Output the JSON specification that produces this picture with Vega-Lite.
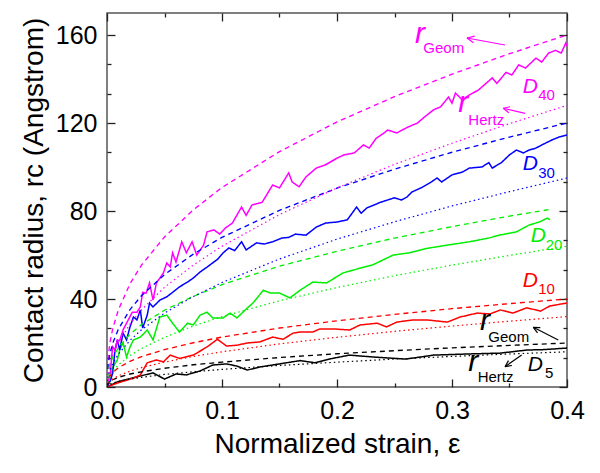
{
"$schema": "https://vega.github.io/schema/vega-lite/v6.json",
"width": 460, "height": 374,
"autosize": "none",
"padding": {"left": 107, "top": 13, "right": 33, "bottom": 86},
"config": {"font": "Liberation Sans", "view": {"stroke": "#555555", "strokeWidth": 1.5}, "axis": {"grid": false, "domain": false, "labelFlush": false, "tickColor": "#222222", "tickWidth": 1.3, "labelColor": "#000000", "titleColor": "#000000", "titleFontWeight": "normal"}},
"datasets": {
"curves": [
{"D":"D5","kind":"sim","eps":0,"r":0},{"D":"D5","kind":"sim","eps":0.009,"r":2.3},{"D":"D5","kind":"sim","eps":0.02,"r":3.8},{"D":"D5","kind":"sim","eps":0.029,"r":5},{"D":"D5","kind":"sim","eps":0.04,"r":6.4},{"D":"D5","kind":"sim","eps":0.05,"r":3.6},{"D":"D5","kind":"sim","eps":0.06,"r":5.9},{"D":"D5","kind":"sim","eps":0.069,"r":5.5},{"D":"D5","kind":"sim","eps":0.081,"r":7.3},{"D":"D5","kind":"sim","eps":0.092,"r":10},{"D":"D5","kind":"sim","eps":0.104,"r":10.5},{"D":"D5","kind":"sim","eps":0.113,"r":9.5},{"D":"D5","kind":"sim","eps":0.122,"r":7.7},{"D":"D5","kind":"sim","eps":0.133,"r":9.1},{"D":"D5","kind":"sim","eps":0.15,"r":10.5},{"D":"D5","kind":"sim","eps":0.168,"r":12},{"D":"D5","kind":"sim","eps":0.181,"r":11},{"D":"D5","kind":"sim","eps":0.196,"r":13},{"D":"D5","kind":"sim","eps":0.211,"r":14.5},{"D":"D5","kind":"sim","eps":0.232,"r":13.6},{"D":"D5","kind":"sim","eps":0.26,"r":12.7},{"D":"D5","kind":"sim","eps":0.284,"r":14.5},{"D":"D5","kind":"sim","eps":0.313,"r":15},{"D":"D5","kind":"sim","eps":0.342,"r":15.4},{"D":"D5","kind":"sim","eps":0.365,"r":16.8},{"D":"D5","kind":"sim","eps":0.38,"r":17},{"D":"D5","kind":"sim","eps":0.4,"r":17.7},
{"D":"D10","kind":"sim","eps":0,"r":0},{"D":"D10","kind":"sim","eps":0.009,"r":1.8},{"D":"D10","kind":"sim","eps":0.023,"r":4},{"D":"D10","kind":"sim","eps":0.029,"r":5.5},{"D":"D10","kind":"sim","eps":0.035,"r":11},{"D":"D10","kind":"sim","eps":0.043,"r":12.3},{"D":"D10","kind":"sim","eps":0.049,"r":11.4},{"D":"D10","kind":"sim","eps":0.055,"r":14.5},{"D":"D10","kind":"sim","eps":0.063,"r":13},{"D":"D10","kind":"sim","eps":0.075,"r":14.5},{"D":"D10","kind":"sim","eps":0.087,"r":18.2},{"D":"D10","kind":"sim","eps":0.096,"r":21.7},{"D":"D10","kind":"sim","eps":0.104,"r":18.6},{"D":"D10","kind":"sim","eps":0.113,"r":19},{"D":"D10","kind":"sim","eps":0.122,"r":20},{"D":"D10","kind":"sim","eps":0.133,"r":20.5},{"D":"D10","kind":"sim","eps":0.144,"r":22.7},{"D":"D10","kind":"sim","eps":0.153,"r":21.7},{"D":"D10","kind":"sim","eps":0.162,"r":24.5},{"D":"D10","kind":"sim","eps":0.168,"r":25},{"D":"D10","kind":"sim","eps":0.179,"r":25},{"D":"D10","kind":"sim","eps":0.185,"r":26.4},{"D":"D10","kind":"sim","eps":0.197,"r":26.4},{"D":"D10","kind":"sim","eps":0.211,"r":25.9},{"D":"D10","kind":"sim","eps":0.22,"r":28.2},{"D":"D10","kind":"sim","eps":0.235,"r":29},{"D":"D10","kind":"sim","eps":0.243,"r":27.3},{"D":"D10","kind":"sim","eps":0.252,"r":29.5},{"D":"D10","kind":"sim","eps":0.266,"r":30.5},{"D":"D10","kind":"sim","eps":0.278,"r":30.5},{"D":"D10","kind":"sim","eps":0.296,"r":29.5},{"D":"D10","kind":"sim","eps":0.307,"r":31.8},{"D":"D10","kind":"sim","eps":0.322,"r":33.6},{"D":"D10","kind":"sim","eps":0.333,"r":33.2},{"D":"D10","kind":"sim","eps":0.342,"r":35},{"D":"D10","kind":"sim","eps":0.353,"r":33.6},{"D":"D10","kind":"sim","eps":0.365,"r":36},{"D":"D10","kind":"sim","eps":0.377,"r":34.5},{"D":"D10","kind":"sim","eps":0.385,"r":36.8},{"D":"D10","kind":"sim","eps":0.4,"r":38.2},
{"D":"D20","kind":"sim","eps":0,"r":0},{"D":"D20","kind":"sim","eps":0.003,"r":3},{"D":"D20","kind":"sim","eps":0.005,"r":9},{"D":"D20","kind":"sim","eps":0.009,"r":12.3},{"D":"D20","kind":"sim","eps":0.011,"r":16.8},{"D":"D20","kind":"sim","eps":0.014,"r":20},{"D":"D20","kind":"sim","eps":0.017,"r":13.6},{"D":"D20","kind":"sim","eps":0.02,"r":18.2},{"D":"D20","kind":"sim","eps":0.023,"r":21.4},{"D":"D20","kind":"sim","eps":0.029,"r":22.7},{"D":"D20","kind":"sim","eps":0.035,"r":25.9},{"D":"D20","kind":"sim","eps":0.04,"r":21.4},{"D":"D20","kind":"sim","eps":0.046,"r":31.8},{"D":"D20","kind":"sim","eps":0.052,"r":32.7},{"D":"D20","kind":"sim","eps":0.057,"r":29},{"D":"D20","kind":"sim","eps":0.063,"r":25},{"D":"D20","kind":"sim","eps":0.07,"r":29},{"D":"D20","kind":"sim","eps":0.075,"r":28.2},{"D":"D20","kind":"sim","eps":0.081,"r":32.7},{"D":"D20","kind":"sim","eps":0.087,"r":34},{"D":"D20","kind":"sim","eps":0.092,"r":31.4},{"D":"D20","kind":"sim","eps":0.101,"r":31.4},{"D":"D20","kind":"sim","eps":0.107,"r":33.6},{"D":"D20","kind":"sim","eps":0.113,"r":31.4},{"D":"D20","kind":"sim","eps":0.122,"r":35.9},{"D":"D20","kind":"sim","eps":0.127,"r":38.2},{"D":"D20","kind":"sim","eps":0.136,"r":44},{"D":"D20","kind":"sim","eps":0.142,"r":42.7},{"D":"D20","kind":"sim","eps":0.15,"r":42.7},{"D":"D20","kind":"sim","eps":0.159,"r":40.5},{"D":"D20","kind":"sim","eps":0.168,"r":44},{"D":"D20","kind":"sim","eps":0.179,"r":47.7},{"D":"D20","kind":"sim","eps":0.191,"r":47.3},{"D":"D20","kind":"sim","eps":0.205,"r":51.8},{"D":"D20","kind":"sim","eps":0.22,"r":54},{"D":"D20","kind":"sim","eps":0.231,"r":55.5},{"D":"D20","kind":"sim","eps":0.249,"r":60},{"D":"D20","kind":"sim","eps":0.263,"r":61},{"D":"D20","kind":"sim","eps":0.278,"r":63},{"D":"D20","kind":"sim","eps":0.296,"r":64.5},{"D":"D20","kind":"sim","eps":0.315,"r":66},{"D":"D20","kind":"sim","eps":0.332,"r":67.7},{"D":"D20","kind":"sim","eps":0.341,"r":69},{"D":"D20","kind":"sim","eps":0.356,"r":70.5},{"D":"D20","kind":"sim","eps":0.367,"r":73.6},{"D":"D20","kind":"sim","eps":0.376,"r":75},{"D":"D20","kind":"sim","eps":0.383,"r":76.8},{"D":"D20","kind":"sim","eps":0.385,"r":76},
{"D":"D30","kind":"sim","eps":0,"r":0},{"D":"D30","kind":"sim","eps":0.003,"r":3},{"D":"D30","kind":"sim","eps":0.005,"r":6.4},{"D":"D30","kind":"sim","eps":0.007,"r":16.8},{"D":"D30","kind":"sim","eps":0.009,"r":21.4},{"D":"D30","kind":"sim","eps":0.011,"r":16.8},{"D":"D30","kind":"sim","eps":0.014,"r":24.5},{"D":"D30","kind":"sim","eps":0.017,"r":21.4},{"D":"D30","kind":"sim","eps":0.02,"r":27.3},{"D":"D30","kind":"sim","eps":0.023,"r":31.8},{"D":"D30","kind":"sim","eps":0.026,"r":30.5},{"D":"D30","kind":"sim","eps":0.029,"r":35},{"D":"D30","kind":"sim","eps":0.031,"r":26.8},{"D":"D30","kind":"sim","eps":0.035,"r":32.7},{"D":"D30","kind":"sim","eps":0.037,"r":38.2},{"D":"D30","kind":"sim","eps":0.04,"r":36.4},{"D":"D30","kind":"sim","eps":0.046,"r":39.5},{"D":"D30","kind":"sim","eps":0.052,"r":41},{"D":"D30","kind":"sim","eps":0.057,"r":43},{"D":"D30","kind":"sim","eps":0.063,"r":45.5},{"D":"D30","kind":"sim","eps":0.07,"r":47.7},{"D":"D30","kind":"sim","eps":0.075,"r":49.5},{"D":"D30","kind":"sim","eps":0.081,"r":52.3},{"D":"D30","kind":"sim","eps":0.087,"r":54.5},{"D":"D30","kind":"sim","eps":0.096,"r":58},{"D":"D30","kind":"sim","eps":0.101,"r":61},{"D":"D30","kind":"sim","eps":0.106,"r":63.2},{"D":"D30","kind":"sim","eps":0.111,"r":62},{"D":"D30","kind":"sim","eps":0.117,"r":66},{"D":"D30","kind":"sim","eps":0.121,"r":62.3},{"D":"D30","kind":"sim","eps":0.13,"r":65.5},{"D":"D30","kind":"sim","eps":0.137,"r":65},{"D":"D30","kind":"sim","eps":0.144,"r":66},{"D":"D30","kind":"sim","eps":0.152,"r":67.7},{"D":"D30","kind":"sim","eps":0.158,"r":68},{"D":"D30","kind":"sim","eps":0.164,"r":69.5},{"D":"D30","kind":"sim","eps":0.173,"r":69},{"D":"D30","kind":"sim","eps":0.182,"r":72.7},{"D":"D30","kind":"sim","eps":0.19,"r":74.5},{"D":"D30","kind":"sim","eps":0.2,"r":75},{"D":"D30","kind":"sim","eps":0.209,"r":76},{"D":"D30","kind":"sim","eps":0.217,"r":81.8},{"D":"D30","kind":"sim","eps":0.221,"r":79},{"D":"D30","kind":"sim","eps":0.226,"r":81.4},{"D":"D30","kind":"sim","eps":0.238,"r":84},{"D":"D30","kind":"sim","eps":0.25,"r":86},{"D":"D30","kind":"sim","eps":0.256,"r":85},{"D":"D30","kind":"sim","eps":0.261,"r":86.4},{"D":"D30","kind":"sim","eps":0.265,"r":88.6},{"D":"D30","kind":"sim","eps":0.273,"r":90.5},{"D":"D30","kind":"sim","eps":0.282,"r":93.2},{"D":"D30","kind":"sim","eps":0.287,"r":95},{"D":"D30","kind":"sim","eps":0.291,"r":93.2},{"D":"D30","kind":"sim","eps":0.3,"r":96.4},{"D":"D30","kind":"sim","eps":0.309,"r":97.7},{"D":"D30","kind":"sim","eps":0.315,"r":99.5},{"D":"D30","kind":"sim","eps":0.326,"r":100},{"D":"D30","kind":"sim","eps":0.332,"r":102},{"D":"D30","kind":"sim","eps":0.335,"r":99.5},{"D":"D30","kind":"sim","eps":0.343,"r":102},{"D":"D30","kind":"sim","eps":0.35,"r":105.5},{"D":"D30","kind":"sim","eps":0.356,"r":107.7},{"D":"D30","kind":"sim","eps":0.362,"r":106.4},{"D":"D30","kind":"sim","eps":0.367,"r":107.7},{"D":"D30","kind":"sim","eps":0.373,"r":108.6},{"D":"D30","kind":"sim","eps":0.378,"r":110},{"D":"D30","kind":"sim","eps":0.387,"r":112.3},{"D":"D30","kind":"sim","eps":0.393,"r":113.6},{"D":"D30","kind":"sim","eps":0.4,"r":114.5},
{"D":"D40","kind":"sim","eps":0,"r":0},{"D":"D40","kind":"sim","eps":0.003,"r":6.4},{"D":"D40","kind":"sim","eps":0.004,"r":13.6},{"D":"D40","kind":"sim","eps":0.005,"r":18.2},{"D":"D40","kind":"sim","eps":0.007,"r":16.8},{"D":"D40","kind":"sim","eps":0.009,"r":21.4},{"D":"D40","kind":"sim","eps":0.011,"r":21},{"D":"D40","kind":"sim","eps":0.014,"r":26},{"D":"D40","kind":"sim","eps":0.017,"r":29},{"D":"D40","kind":"sim","eps":0.022,"r":34},{"D":"D40","kind":"sim","eps":0.026,"r":34},{"D":"D40","kind":"sim","eps":0.029,"r":36.4},{"D":"D40","kind":"sim","eps":0.031,"r":43},{"D":"D40","kind":"sim","eps":0.034,"r":42.7},{"D":"D40","kind":"sim","eps":0.037,"r":47.3},{"D":"D40","kind":"sim","eps":0.04,"r":39.5},{"D":"D40","kind":"sim","eps":0.043,"r":47.3},{"D":"D40","kind":"sim","eps":0.049,"r":51.8},{"D":"D40","kind":"sim","eps":0.052,"r":56.4},{"D":"D40","kind":"sim","eps":0.055,"r":54.5},{"D":"D40","kind":"sim","eps":0.057,"r":61},{"D":"D40","kind":"sim","eps":0.06,"r":56.8},{"D":"D40","kind":"sim","eps":0.065,"r":66},{"D":"D40","kind":"sim","eps":0.069,"r":61},{"D":"D40","kind":"sim","eps":0.074,"r":66},{"D":"D40","kind":"sim","eps":0.078,"r":60},{"D":"D40","kind":"sim","eps":0.084,"r":64.5},{"D":"D40","kind":"sim","eps":0.087,"r":70.5},{"D":"D40","kind":"sim","eps":0.093,"r":71.4},{"D":"D40","kind":"sim","eps":0.098,"r":69.5},{"D":"D40","kind":"sim","eps":0.103,"r":72.3},{"D":"D40","kind":"sim","eps":0.109,"r":74.5},{"D":"D40","kind":"sim","eps":0.117,"r":81.8},{"D":"D40","kind":"sim","eps":0.121,"r":78},{"D":"D40","kind":"sim","eps":0.126,"r":82.7},{"D":"D40","kind":"sim","eps":0.135,"r":84},{"D":"D40","kind":"sim","eps":0.144,"r":91.8},{"D":"D40","kind":"sim","eps":0.15,"r":90.5},{"D":"D40","kind":"sim","eps":0.158,"r":97.3},{"D":"D40","kind":"sim","eps":0.161,"r":93.2},{"D":"D40","kind":"sim","eps":0.167,"r":91},{"D":"D40","kind":"sim","eps":0.173,"r":95.5},{"D":"D40","kind":"sim","eps":0.182,"r":99.5},{"D":"D40","kind":"sim","eps":0.19,"r":101},{"D":"D40","kind":"sim","eps":0.2,"r":104},{"D":"D40","kind":"sim","eps":0.206,"r":105.5},{"D":"D40","kind":"sim","eps":0.215,"r":106.4},{"D":"D40","kind":"sim","eps":0.223,"r":110},{"D":"D40","kind":"sim","eps":0.228,"r":108.6},{"D":"D40","kind":"sim","eps":0.234,"r":113},{"D":"D40","kind":"sim","eps":0.241,"r":115.5},{"D":"D40","kind":"sim","eps":0.244,"r":116.8},{"D":"D40","kind":"sim","eps":0.252,"r":115.5},{"D":"D40","kind":"sim","eps":0.261,"r":118},{"D":"D40","kind":"sim","eps":0.27,"r":120},{"D":"D40","kind":"sim","eps":0.276,"r":122.7},{"D":"D40","kind":"sim","eps":0.284,"r":126},{"D":"D40","kind":"sim","eps":0.29,"r":127.3},{"D":"D40","kind":"sim","eps":0.297,"r":131.8},{"D":"D40","kind":"sim","eps":0.3,"r":129},{"D":"D40","kind":"sim","eps":0.303,"r":133.6},{"D":"D40","kind":"sim","eps":0.309,"r":130.5},{"D":"D40","kind":"sim","eps":0.315,"r":132.7},{"D":"D40","kind":"sim","eps":0.323,"r":135},{"D":"D40","kind":"sim","eps":0.335,"r":140.5},{"D":"D40","kind":"sim","eps":0.339,"r":138},{"D":"D40","kind":"sim","eps":0.347,"r":143},{"D":"D40","kind":"sim","eps":0.352,"r":141.8},{"D":"D40","kind":"sim","eps":0.358,"r":146.4},{"D":"D40","kind":"sim","eps":0.364,"r":145},{"D":"D40","kind":"sim","eps":0.373,"r":149.5},{"D":"D40","kind":"sim","eps":0.378,"r":147.7},{"D":"D40","kind":"sim","eps":0.384,"r":151.8},{"D":"D40","kind":"sim","eps":0.39,"r":153},{"D":"D40","kind":"sim","eps":0.395,"r":151.8},{"D":"D40","kind":"sim","eps":0.399,"r":156.4},{"D":"D40","kind":"sim","eps":0.4,"r":155},
{"D":"D40","kind":"geom","eps":0,"r":0},{"D":"D40","kind":"geom","eps":0.001,"r":13.7},{"D":"D40","kind":"geom","eps":0.0025,"r":20},{"D":"D40","kind":"geom","eps":0.005,"r":26.6},{"D":"D40","kind":"geom","eps":0.01,"r":35.2},{"D":"D40","kind":"geom","eps":0.02,"r":46.9},{"D":"D40","kind":"geom","eps":0.03,"r":55.4},{"D":"D40","kind":"geom","eps":0.05,"r":68.2},{"D":"D40","kind":"geom","eps":0.075,"r":80.5},{"D":"D40","kind":"geom","eps":0.1,"r":90.7},{"D":"D40","kind":"geom","eps":0.15,"r":107},{"D":"D40","kind":"geom","eps":0.2,"r":120.5},{"D":"D40","kind":"geom","eps":0.25,"r":132},{"D":"D40","kind":"geom","eps":0.3,"r":142.2},{"D":"D40","kind":"geom","eps":0.35,"r":151.5},{"D":"D40","kind":"geom","eps":0.4,"r":160},
{"D":"D30","kind":"geom","eps":0,"r":0},{"D":"D30","kind":"geom","eps":0.001,"r":10.3},{"D":"D30","kind":"geom","eps":0.0025,"r":15},{"D":"D30","kind":"geom","eps":0.005,"r":19.9},{"D":"D30","kind":"geom","eps":0.01,"r":26.4},{"D":"D30","kind":"geom","eps":0.02,"r":35.2},{"D":"D30","kind":"geom","eps":0.03,"r":41.5},{"D":"D30","kind":"geom","eps":0.05,"r":51.1},{"D":"D30","kind":"geom","eps":0.075,"r":60.4},{"D":"D30","kind":"geom","eps":0.1,"r":68},{"D":"D30","kind":"geom","eps":0.15,"r":80.3},{"D":"D30","kind":"geom","eps":0.2,"r":90.4},{"D":"D30","kind":"geom","eps":0.25,"r":99},{"D":"D30","kind":"geom","eps":0.3,"r":106.7},{"D":"D30","kind":"geom","eps":0.35,"r":113.6},{"D":"D30","kind":"geom","eps":0.4,"r":120},
{"D":"D20","kind":"geom","eps":0,"r":0},{"D":"D20","kind":"geom","eps":0.001,"r":7},{"D":"D20","kind":"geom","eps":0.0025,"r":10.3},{"D":"D20","kind":"geom","eps":0.005,"r":13.6},{"D":"D20","kind":"geom","eps":0.01,"r":18},{"D":"D20","kind":"geom","eps":0.02,"r":24},{"D":"D20","kind":"geom","eps":0.03,"r":28.4},{"D":"D20","kind":"geom","eps":0.05,"r":34.9},{"D":"D20","kind":"geom","eps":0.075,"r":41.2},{"D":"D20","kind":"geom","eps":0.1,"r":46.5},{"D":"D20","kind":"geom","eps":0.15,"r":54.9},{"D":"D20","kind":"geom","eps":0.2,"r":61.7},{"D":"D20","kind":"geom","eps":0.25,"r":67.7},{"D":"D20","kind":"geom","eps":0.3,"r":72.9},{"D":"D20","kind":"geom","eps":0.35,"r":77.7},{"D":"D20","kind":"geom","eps":0.385,"r":80.7},
{"D":"D10","kind":"geom","eps":0,"r":0},{"D":"D10","kind":"geom","eps":0.001,"r":3.4},{"D":"D10","kind":"geom","eps":0.0025,"r":5},{"D":"D10","kind":"geom","eps":0.005,"r":6.6},{"D":"D10","kind":"geom","eps":0.01,"r":8.8},{"D":"D10","kind":"geom","eps":0.02,"r":11.7},{"D":"D10","kind":"geom","eps":0.03,"r":13.8},{"D":"D10","kind":"geom","eps":0.05,"r":17},{"D":"D10","kind":"geom","eps":0.075,"r":20.1},{"D":"D10","kind":"geom","eps":0.1,"r":22.7},{"D":"D10","kind":"geom","eps":0.15,"r":26.8},{"D":"D10","kind":"geom","eps":0.2,"r":30.1},{"D":"D10","kind":"geom","eps":0.25,"r":33},{"D":"D10","kind":"geom","eps":0.3,"r":35.6},{"D":"D10","kind":"geom","eps":0.35,"r":37.9},{"D":"D10","kind":"geom","eps":0.4,"r":40},
{"D":"D5","kind":"geom","eps":0,"r":0},{"D":"D5","kind":"geom","eps":0.001,"r":1.7},{"D":"D5","kind":"geom","eps":0.0025,"r":2.5},{"D":"D5","kind":"geom","eps":0.005,"r":3.3},{"D":"D5","kind":"geom","eps":0.01,"r":4.4},{"D":"D5","kind":"geom","eps":0.02,"r":5.9},{"D":"D5","kind":"geom","eps":0.03,"r":6.9},{"D":"D5","kind":"geom","eps":0.05,"r":8.5},{"D":"D5","kind":"geom","eps":0.075,"r":10.1},{"D":"D5","kind":"geom","eps":0.1,"r":11.3},{"D":"D5","kind":"geom","eps":0.15,"r":13.4},{"D":"D5","kind":"geom","eps":0.2,"r":15.1},{"D":"D5","kind":"geom","eps":0.25,"r":16.5},{"D":"D5","kind":"geom","eps":0.3,"r":17.8},{"D":"D5","kind":"geom","eps":0.35,"r":18.9},{"D":"D5","kind":"geom","eps":0.4,"r":20},
{"D":"D40","kind":"hertz","eps":0,"r":0},{"D":"D40","kind":"hertz","eps":0.001,"r":6.4},{"D":"D40","kind":"hertz","eps":0.0025,"r":10.1},{"D":"D40","kind":"hertz","eps":0.005,"r":14.3},{"D":"D40","kind":"hertz","eps":0.01,"r":20.2},{"D":"D40","kind":"hertz","eps":0.02,"r":28.6},{"D":"D40","kind":"hertz","eps":0.03,"r":35.1},{"D":"D40","kind":"hertz","eps":0.05,"r":45.3},{"D":"D40","kind":"hertz","eps":0.075,"r":55.4},{"D":"D40","kind":"hertz","eps":0.1,"r":64},{"D":"D40","kind":"hertz","eps":0.15,"r":78.4},{"D":"D40","kind":"hertz","eps":0.2,"r":90.5},{"D":"D40","kind":"hertz","eps":0.25,"r":101.2},{"D":"D40","kind":"hertz","eps":0.3,"r":110.8},{"D":"D40","kind":"hertz","eps":0.35,"r":119.7},{"D":"D40","kind":"hertz","eps":0.4,"r":128},
{"D":"D30","kind":"hertz","eps":0,"r":0},{"D":"D30","kind":"hertz","eps":0.001,"r":4.8},{"D":"D30","kind":"hertz","eps":0.0025,"r":7.5},{"D":"D30","kind":"hertz","eps":0.005,"r":10.6},{"D":"D30","kind":"hertz","eps":0.01,"r":15},{"D":"D30","kind":"hertz","eps":0.02,"r":21.2},{"D":"D30","kind":"hertz","eps":0.03,"r":26},{"D":"D30","kind":"hertz","eps":0.05,"r":33.6},{"D":"D30","kind":"hertz","eps":0.075,"r":41.1},{"D":"D30","kind":"hertz","eps":0.1,"r":47.5},{"D":"D30","kind":"hertz","eps":0.15,"r":58.2},{"D":"D30","kind":"hertz","eps":0.2,"r":67.2},{"D":"D30","kind":"hertz","eps":0.25,"r":75.1},{"D":"D30","kind":"hertz","eps":0.3,"r":82.3},{"D":"D30","kind":"hertz","eps":0.35,"r":88.8},{"D":"D30","kind":"hertz","eps":0.4,"r":95},
{"D":"D20","kind":"hertz","eps":0,"r":0},{"D":"D20","kind":"hertz","eps":0.001,"r":3.2},{"D":"D20","kind":"hertz","eps":0.0025,"r":5.1},{"D":"D20","kind":"hertz","eps":0.005,"r":7.2},{"D":"D20","kind":"hertz","eps":0.01,"r":10.1},{"D":"D20","kind":"hertz","eps":0.02,"r":14.3},{"D":"D20","kind":"hertz","eps":0.03,"r":17.5},{"D":"D20","kind":"hertz","eps":0.05,"r":22.6},{"D":"D20","kind":"hertz","eps":0.075,"r":27.7},{"D":"D20","kind":"hertz","eps":0.1,"r":32},{"D":"D20","kind":"hertz","eps":0.15,"r":39.2},{"D":"D20","kind":"hertz","eps":0.2,"r":45.2},{"D":"D20","kind":"hertz","eps":0.25,"r":50.6},{"D":"D20","kind":"hertz","eps":0.3,"r":55.4},{"D":"D20","kind":"hertz","eps":0.35,"r":59.8},{"D":"D20","kind":"hertz","eps":0.4,"r":64},
{"D":"D10","kind":"hertz","eps":0,"r":0},{"D":"D10","kind":"hertz","eps":0.001,"r":1.6},{"D":"D10","kind":"hertz","eps":0.0025,"r":2.5},{"D":"D10","kind":"hertz","eps":0.005,"r":3.6},{"D":"D10","kind":"hertz","eps":0.01,"r":5.1},{"D":"D10","kind":"hertz","eps":0.02,"r":7.2},{"D":"D10","kind":"hertz","eps":0.03,"r":8.8},{"D":"D10","kind":"hertz","eps":0.05,"r":11.3},{"D":"D10","kind":"hertz","eps":0.075,"r":13.9},{"D":"D10","kind":"hertz","eps":0.1,"r":16},{"D":"D10","kind":"hertz","eps":0.15,"r":19.6},{"D":"D10","kind":"hertz","eps":0.2,"r":22.6},{"D":"D10","kind":"hertz","eps":0.25,"r":25.3},{"D":"D10","kind":"hertz","eps":0.3,"r":27.7},{"D":"D10","kind":"hertz","eps":0.35,"r":29.9},{"D":"D10","kind":"hertz","eps":0.4,"r":32},
{"D":"D5","kind":"hertz","eps":0,"r":0},{"D":"D5","kind":"hertz","eps":0.001,"r":0.8},{"D":"D5","kind":"hertz","eps":0.0025,"r":1.3},{"D":"D5","kind":"hertz","eps":0.005,"r":1.8},{"D":"D5","kind":"hertz","eps":0.01,"r":2.5},{"D":"D5","kind":"hertz","eps":0.02,"r":3.6},{"D":"D5","kind":"hertz","eps":0.03,"r":4.4},{"D":"D5","kind":"hertz","eps":0.05,"r":5.7},{"D":"D5","kind":"hertz","eps":0.075,"r":6.9},{"D":"D5","kind":"hertz","eps":0.1,"r":8},{"D":"D5","kind":"hertz","eps":0.15,"r":9.8},{"D":"D5","kind":"hertz","eps":0.2,"r":11.3},{"D":"D5","kind":"hertz","eps":0.25,"r":12.7},{"D":"D5","kind":"hertz","eps":0.3,"r":13.9},{"D":"D5","kind":"hertz","eps":0.35,"r":15},{"D":"D5","kind":"hertz","eps":0.4,"r":16}
],
"arrows": [
{"D":"D40","eps":0.3461,"r":155.45,"eps2":0.313,"r2":158.64},{"D":"D40","eps":0.313,"r":158.64,"eps2":0.3187,"r2":156.5},{"D":"D40","eps":0.313,"r":158.64,"eps2":0.3197,"r2":159.5},
{"D":"D40","eps":0.3635,"r":124.4,"eps2":0.3446,"r2":126.7},{"D":"D40","eps":0.3446,"r":126.7,"eps2":0.3494,"r2":124.7},{"D":"D40","eps":0.3446,"r":126.7,"eps2":0.3505,"r2":127.4},
{"D":"D5","eps":0.3924,"r":21.36,"eps2":0.3707,"r2":27.14},{"D":"D5","eps":0.3707,"r":27.14,"eps2":0.3744,"r2":24.6},{"D":"D5","eps":0.3707,"r":27.14,"eps2":0.3768,"r2":27.0},
{"D":"D5","eps":0.3606,"r":14.55,"eps2":0.3461,"r2":9.23},{"D":"D5","eps":0.3461,"r":9.23,"eps2":0.3521,"r2":9.77},{"D":"D5","eps":0.3461,"r":9.23,"eps2":0.3491,"r2":12.0}
],
"rlabels": [
{"D":"D40","eps":0.2678,"r":156.2},{"D":"D40","eps":0.3055,"r":125.1},{"D":"D5","eps":0.3243,"r":25.9},{"D":"D5","eps":0.3142,"r":7.4}
],
"dlabels": [
{"D":"D40","eps":0.3615,"r":133.5},{"D":"D30","eps":0.3615,"r":98.6},{"D":"D20","eps":0.3684,"r":66.05},{"D":"D10","eps":0.3615,"r":45.6},{"D":"D5","eps":0.3658,"r":7.4}
],
"subs": [
{"D":"D40","text":"Geom","eps":0.2751,"r":151.7},{"D":"D40","text":"40","eps":0.375,"r":130.5},{"D":"D40","text":"Hertz","eps":0.3142,"r":119.1},{"D":"D30","text":"30","eps":0.375,"r":94.9},{"D":"D20","text":"20","eps":0.3815,"r":62.3},{"D":"D10","text":"10","eps":0.375,"r":42.3},{"D":"D5","text":"Geom","eps":0.3316,"r":20.6},{"D":"D5","text":"Hertz","eps":0.3223,"r":2.4},{"D":"D5","text":"5","eps":0.3809,"r":3.95}
]
},
"resolve": {"axis": {"x": "independent", "y": "independent"}},
"layer": [
{
"data": {"name": "curves"},
"mark": {"type": "line", "clip": true},
"encoding": {
"x": {"field": "eps", "type": "quantitative", "scale": {"domain": [0, 0.4], "nice": false, "zero": false},
"axis": {"orient": "bottom", "values": [0, 0.1, 0.2, 0.3, 0.4], "format": ".1f", "ticks": false, "labelFontSize": 25, "labelPadding": 11, "title": "Normalized strain, ε", "titleFontSize": 28, "titleY": 65, "titleBaseline": "alphabetic"}},
"y": {"field": "r", "type": "quantitative", "scale": {"domain": [0, 170], "nice": false, "zero": false},
"axis": {"orient": "left", "values": [0, 40, 80, 120, 160], "ticks": false, "labelFontSize": 25, "labelPadding": 10, "title": "Contact radius, rc (Angstrom)", "titleFontSize": 28, "titleX": -65, "titleBaseline": "alphabetic"}},
"color": {"field": "D", "type": "nominal", "scale": {"domain": ["D5", "D10", "D20", "D30", "D40"], "range": ["#000000", "#ff0000", "#00ee00", "#0000ff", "#ff00ff"]}, "legend": null},
"strokeDash": {"field": "kind", "type": "nominal", "scale": {"domain": ["sim", "geom", "hertz"], "range": [[1, 0], [5, 4], [1.5, 3]]}, "legend": null},
"strokeWidth": {"field": "kind", "type": "nominal", "scale": {"domain": ["sim", "geom", "hertz"], "range": [1.5, 1.2, 1.6]}, "legend": null}
}
},
{
"data": {"name": "arrows"},
"mark": {"type": "rule", "strokeWidth": 1.2},
"encoding": {
"x": {"field": "eps", "type": "quantitative", "scale": {"domain": [0, 0.4], "nice": false, "zero": false}, "axis": {"orient": "bottom", "values": [0, 0.1, 0.2, 0.3, 0.4], "labels": false, "tickSize": -8, "title": null}},
"y": {"field": "r", "type": "quantitative", "scale": {"domain": [0, 170], "nice": false, "zero": false}, "axis": {"orient": "left", "values": [0, 40, 80, 120, 160], "labels": false, "tickSize": -8, "title": null}},
"x2": {"field": "eps2"},
"y2": {"field": "r2"},
"color": {"field": "D", "type": "nominal", "legend": null}
}
},
{
"data": {"name": "rlabels"},
"mark": {"type": "text", "text": "r", "fontStyle": "italic", "fontSize": 30, "align": "left", "baseline": "alphabetic"},
"encoding": {
"x": {"field": "eps", "type": "quantitative", "scale": {"domain": [0, 0.4], "nice": false, "zero": false}, "axis": {"orient": "bottom", "values": [0.05, 0.15, 0.25, 0.35], "labels": false, "tickSize": -4, "title": null}},
"y": {"field": "r", "type": "quantitative", "scale": {"domain": [0, 170], "nice": false, "zero": false}, "axis": {"orient": "left", "values": [13.333, 26.667, 53.333, 66.667, 93.333, 106.667, 133.333, 146.667], "labels": false, "tickSize": -4, "title": null}},
"color": {"field": "D", "type": "nominal", "legend": null}
}
},
{
"data": {"name": "dlabels"},
"mark": {"type": "text", "text": "D", "fontStyle": "italic", "fontSize": 21, "align": "left", "baseline": "alphabetic"},
"encoding": {
"x": {"field": "eps", "type": "quantitative", "scale": {"domain": [0, 0.4], "nice": false, "zero": false}, "axis": {"orient": "top", "values": [0, 0.1, 0.2, 0.3, 0.4], "labels": false, "tickSize": -8, "title": null}},
"y": {"field": "r", "type": "quantitative", "scale": {"domain": [0, 170], "nice": false, "zero": false}, "axis": {"orient": "right", "values": [0, 40, 80, 120, 160], "labels": false, "tickSize": -8, "title": null}},
"color": {"field": "D", "type": "nominal", "legend": null}
}
},
{
"data": {"name": "subs"},
"mark": {"type": "text", "fontSize": 15, "align": "left", "baseline": "alphabetic"},
"encoding": {
"x": {"field": "eps", "type": "quantitative", "scale": {"domain": [0, 0.4], "nice": false, "zero": false}, "axis": {"orient": "top", "values": [0.05, 0.15, 0.25, 0.35], "labels": false, "tickSize": -4, "title": null}},
"y": {"field": "r", "type": "quantitative", "scale": {"domain": [0, 170], "nice": false, "zero": false}, "axis": {"orient": "right", "values": [13.333, 26.667, 53.333, 66.667, 93.333, 106.667, 133.333, 146.667], "labels": false, "tickSize": -4, "title": null}},
"text": {"field": "text", "type": "nominal"},
"color": {"field": "D", "type": "nominal", "legend": null}
}
}
]
}
